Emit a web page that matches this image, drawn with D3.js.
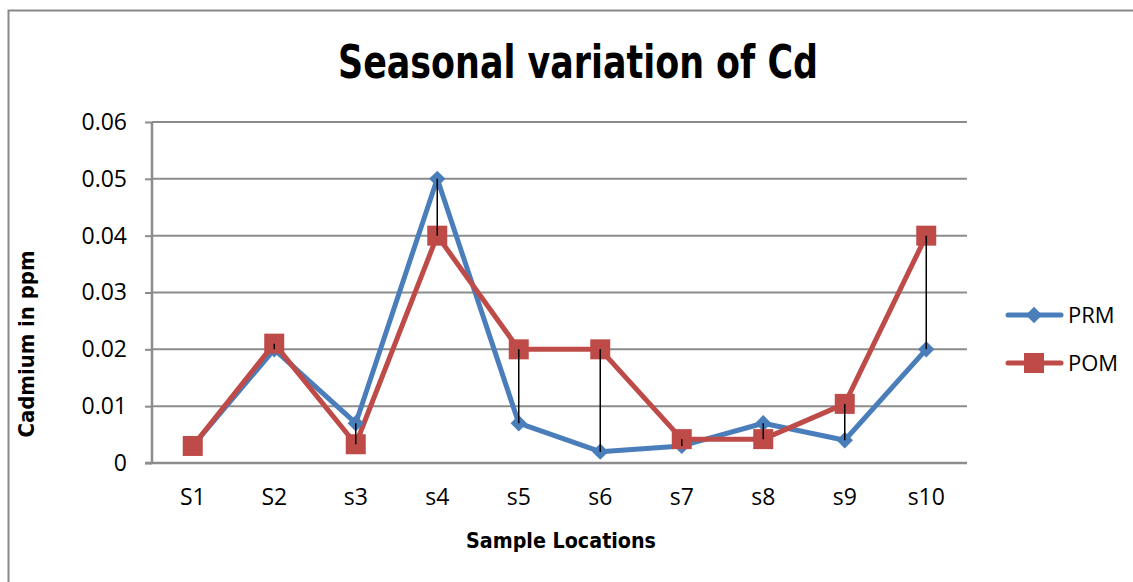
<!DOCTYPE html>
<html><head><meta charset="utf-8">
<script src="https://cdn.jsdelivr.net/npm/d3@7"></script>
<style>body{margin:0;background:#fff}svg{display:block}</style>
</head><body>
<svg id="c" width="1133" height="582"></svg>
<script>
const categories = ["S1","S2","s3","s4","s5","s6","s7","s8","s9","s10"];
const prm = [0.003,0.02,0.007,0.05,0.007,0.002,0.003,0.007,0.004,0.02];
const pom = [0.003,0.021,0.0033,0.04,0.02,0.02,0.0042,0.0042,0.0104,0.04];
const yTicks = [0,0.01,0.02,0.03,0.04,0.05,0.06];
const seriesNames = ["PRM","POM"];
const colors = ["#4a7ebb","#be4b48"];

const svg = d3.select("#c");
const m = {l:152, t:122, r:967, b:463};
const labelFont = "'Open Sans',sans-serif";
const boldFont = "'DejaVu Sans',sans-serif";
// outer frame
svg.append("rect").attr("x",8.5).attr("y",10.5).attr("width",1200).attr("height",700)
  .attr("fill","none").attr("stroke","#888").attr("stroke-width",2);

const x = d3.scaleBand().domain(categories).range([m.l,m.r]);
const y = d3.scaleLinear().domain([0,0.06]).range([m.b,m.t]);

// gridlines
svg.append("g").selectAll("line").data(yTicks.filter(d=>d>0)).join("line")
  .attr("x1",m.l).attr("x2",m.r).attr("y1",d=>y(d)).attr("y2",d=>y(d))
  .attr("stroke","#8c8c8c").attr("stroke-width",2);

// y axis
const ya = svg.append("g").attr("transform",`translate(${m.l},0)`)
  .call(d3.axisLeft(y).tickValues(yTicks).tickFormat(d=>d===0?"0":d3.format(".2f")(d)).tickSize(7).tickPadding(18));
ya.select(".domain").attr("stroke","#8c8c8c").attr("stroke-width",2.5).attr("d",`M0,${m.t}V${m.b}`);
ya.selectAll(".tick line").attr("stroke","#8c8c8c").attr("stroke-width",2);
ya.selectAll("text").attr("font-family",labelFont).attr("font-size",23).attr("fill","#000");

// x axis
const xa = svg.append("g").attr("transform",`translate(0,${m.b})`)
  .call(d3.axisBottom(x).tickSize(0).tickPadding(26));
xa.select(".domain").attr("stroke","#8c8c8c").attr("stroke-width",2.5).attr("d",`M${m.l-7},0H${m.r}`);
xa.selectAll("text").attr("font-family",labelFont).attr("font-size",23).attr("fill","#000");

const cx = d => x(d)+x.bandwidth()/2;
const data = [prm,pom];

// lines
const line = d3.line().x((d,i)=>cx(categories[i])).y(d=>y(d));
data.forEach((s,k)=>{
  svg.append("path").datum(s).attr("d",line).attr("fill","none")
    .attr("stroke",colors[k]).attr("stroke-width",5).attr("stroke-linejoin","round");
});
// markers
svg.append("g").selectAll("path").data(prm).join("path")
  .attr("transform",(d,i)=>`translate(${cx(categories[i])},${y(d)})`)
  .attr("d",d3.symbol(d3.symbolDiamond2,170)()).attr("fill",colors[0]);
svg.append("g").selectAll("rect").data(pom).join("rect")
  .attr("x",(d,i)=>cx(categories[i])-10).attr("y",d=>y(d)-10).attr("width",20).attr("height",20)
  .attr("fill",colors[1]);
// high-low lines
svg.append("g").selectAll("line").data(categories).join("line")
  .attr("x1",d=>cx(d)).attr("x2",d=>cx(d))
  .attr("y1",(d,i)=>y(prm[i])).attr("y2",(d,i)=>y(pom[i]))
  .attr("stroke","#000").attr("stroke-width",1.5);

// title
svg.append("text").attr("x",578).attr("y",78).attr("text-anchor","middle")
  .attr("font-family",boldFont).attr("font-weight","bold").attr("font-size",46)
  .attr("textLength",480).attr("lengthAdjust","spacingAndGlyphs").text("Seasonal variation of Cd");
// axis titles
svg.append("text").attr("transform","translate(34,344) rotate(-90)").attr("text-anchor","middle")
  .attr("font-family",boldFont).attr("font-weight","bold").attr("font-size",22)
  .attr("textLength",187).attr("lengthAdjust","spacingAndGlyphs").text("Cadmium in ppm");
svg.append("text").attr("x",561).attr("y",548).attr("text-anchor","middle")
  .attr("font-family",boldFont).attr("font-weight","bold").attr("font-size",22)
  .attr("textLength",190).attr("lengthAdjust","spacingAndGlyphs").text("Sample Locations");

// legend
const lg = svg.append("g");
seriesNames.forEach((n,k)=>{
  const yy = 315 + k*48;
  lg.append("line").attr("x1",1008).attr("x2",1061).attr("y1",yy).attr("y2",yy)
    .attr("stroke",colors[k]).attr("stroke-width",5).attr("stroke-linecap","round");
  if(k===0) lg.append("path").attr("transform",`translate(1034,${yy})`).attr("d",d3.symbol(d3.symbolDiamond2,170)()).attr("fill",colors[0]);
  else lg.append("rect").attr("x",1024).attr("y",yy-10).attr("width",20).attr("height",20).attr("fill",colors[1]);
  lg.append("text").attr("x",1068).attr("y",yy+8).attr("font-family",labelFont)
    .attr("font-size",22).text(n);
});
</script>
</body></html>
